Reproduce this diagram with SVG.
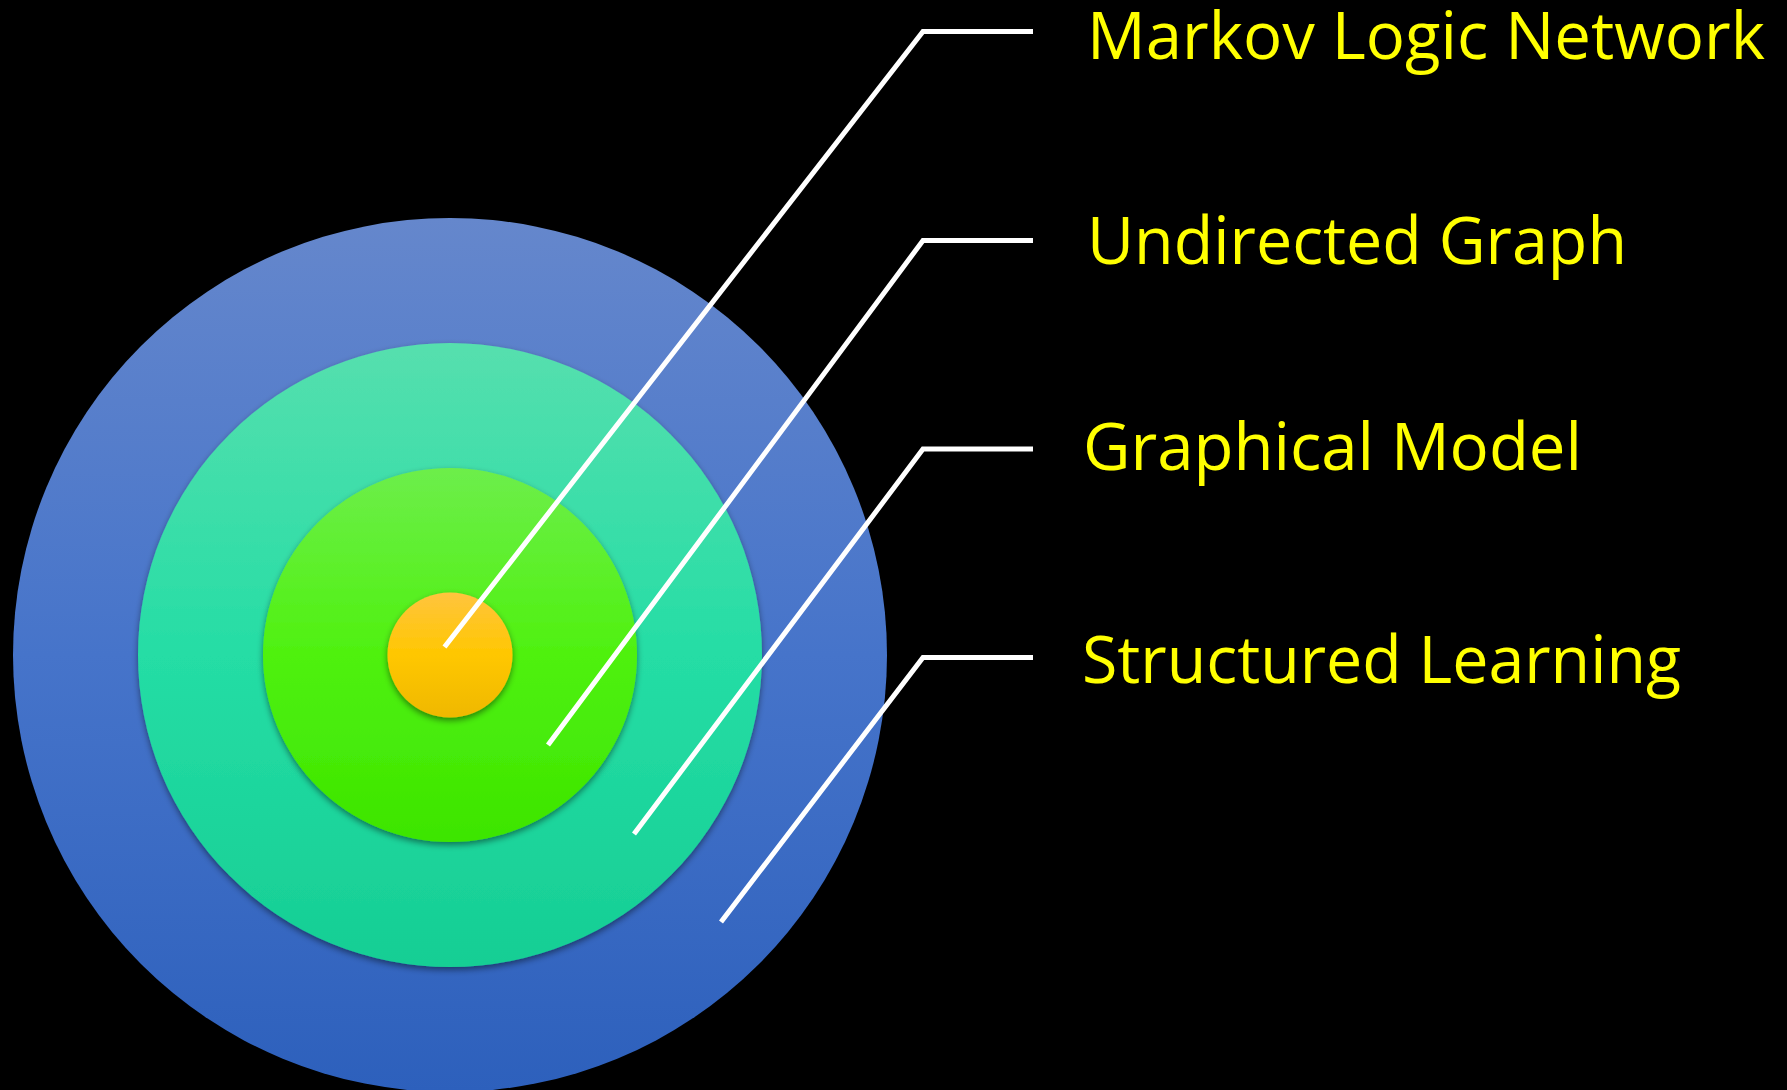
<svg xmlns="http://www.w3.org/2000/svg" width="1787" height="1090" viewBox="0 0 1787 1090">
  <defs>
    <linearGradient id="gBlue" x1="0" y1="0" x2="0" y2="1">
      <stop offset="0" stop-color="#6587CC"/>
      <stop offset="0.5" stop-color="#4674CA"/>
      <stop offset="1" stop-color="#2D60BC"/>
    </linearGradient>
    <linearGradient id="gTeal" x1="0" y1="0" x2="0" y2="1">
      <stop offset="0" stop-color="#56DFAE"/>
      <stop offset="0.5" stop-color="#25DDA5"/>
      <stop offset="1" stop-color="#16CE94"/>
    </linearGradient>
    <linearGradient id="gGreen" x1="0" y1="0" x2="0" y2="1">
      <stop offset="0" stop-color="#6DEE4B"/>
      <stop offset="0.5" stop-color="#4FF10F"/>
      <stop offset="1" stop-color="#3DE500"/>
    </linearGradient>
    <linearGradient id="gOrange" x1="0" y1="0" x2="0" y2="1">
      <stop offset="0" stop-color="#FFC43E"/>
      <stop offset="0.5" stop-color="#FFC700"/>
      <stop offset="1" stop-color="#EFB800"/>
    </linearGradient>
    <filter id="shadow" x="-10%" y="-10%" width="120%" height="125%">
      <feDropShadow dx="0" dy="3" stdDeviation="3" flood-color="#000" flood-opacity="0.45"/>
    </filter>
  </defs>
  <style>
    .label { font-family: "Open Sans", "Noto Sans", "Liberation Sans", sans-serif; font-size: 65px; fill: #FFFF00; }
    .conn { fill: none; stroke: #FFFFFF; stroke-width: 5; stroke-linejoin: miter; }
  </style>
  <rect x="0" y="0" width="1787" height="1090" fill="#000000"/>

  <g id="node-structured-learning">
    <circle cx="450" cy="655" r="437" fill="url(#gBlue)"/>
  </g>
  <g id="node-graphical-model">
    <circle cx="450" cy="655" r="312" fill="url(#gTeal)" filter="url(#shadow)"/>
  </g>
  <g id="node-undirected-graph">
    <circle cx="450" cy="655" r="187" fill="url(#gGreen)" filter="url(#shadow)"/>
  </g>
  <g id="node-markov-logic-network">
    <circle cx="450" cy="655" r="62.5" fill="url(#gOrange)" filter="url(#shadow)"/>
  </g>

  <g id="connectors">
    <polyline class="conn" points="444.5,647 923,31.5 1033,31.5"/>
    <polyline class="conn" points="548,745 923,240.5 1033,240.5"/>
    <polyline class="conn" points="634,834 923,449 1033,449"/>
    <polyline class="conn" points="721,922 923,657.5 1033,657.5"/>
  </g>

  <g id="labels">
    <text id="label-markov" class="label" x="1087" y="59" textLength="678" lengthAdjust="spacingAndGlyphs">Markov Logic Network</text>
    <text id="label-undirected" class="label" x="1087" y="264" textLength="540" lengthAdjust="spacingAndGlyphs">Undirected Graph</text>
    <text id="label-graphical" class="label" x="1083" y="470" textLength="499" lengthAdjust="spacingAndGlyphs">Graphical Model</text>
    <text id="label-structured" class="label" x="1082" y="683" textLength="599" lengthAdjust="spacingAndGlyphs">Structured Learning</text>
  </g>
</svg>
